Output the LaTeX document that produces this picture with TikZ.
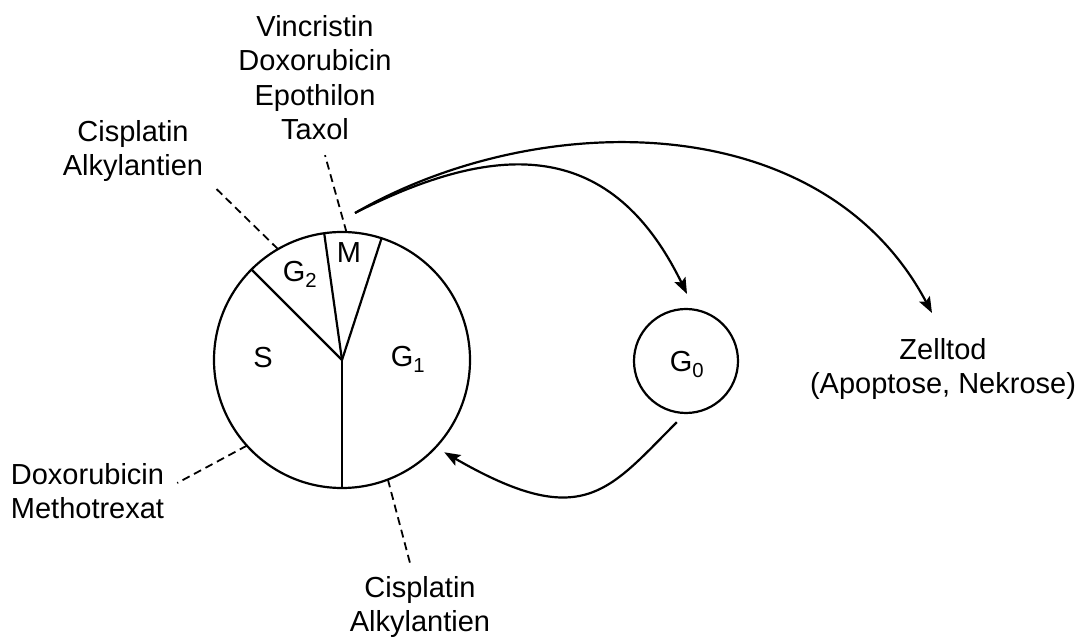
\documentclass[tikz,border=0pt]{standalone}
\usepackage{fontspec}
\setsansfont{Liberation Sans}
\usetikzlibrary{positioning, calc, arrows.meta}

\begin{document}
\begin{tikzpicture}[
		x=1pt, y=1pt,
		font=\sffamily\fontsize{29}{34.5}\selectfont,
		% Style for the phase circles
		phase/.style={circle, draw, line width=2.2pt, inner sep=0pt, outer sep=0pt},
		% Spokes between the phases
		spoke/.style={line width=2.2pt},
		% Dashed leader lines to the drug lists
		leader/.style={line width=1.8pt, dash pattern=on 8pt off 5pt},
		% Curved transition arrows
		flow/.style={line width=2.2pt, -{Stealth[length=16pt, width=12pt, inset=3pt]}},
		% Text
		drugs/.style={align=center, inner sep=0pt, anchor=north},
		phase label/.style={inner sep=0pt, anchor=base}
		]
		\useasboundingbox (0,0) rectangle (1079,640);
		
		% Cell cycle
		\node[phase, minimum size=256] (cell) at (342,280) {};
		\draw[spoke] (cell.center) -- (cell.270);
		\draw[spoke] (cell.center) -- (cell.135);
		\draw[spoke] (cell.center) -- (cell.98.5);
		\draw[spoke] (cell.center) -- (cell.72);
		\node[phase label] (s) at (263,272) {S};
		\node[phase label] (g2) at (300,358) {G\textsubscript{2}};
		\node[phase label] (m) at (349,377) {M};
		\node[phase label] (g1) at (408,273) {G\textsubscript{1}};
		
		% Resting phase
		\node[phase, minimum size=104] (g0) at (686,279) {};
		\node[phase label] (g0txt) at (687,268) {G\textsubscript{0}};
		
		% Drug lists
		\node[drugs] (vinc) at (315,625) {Vincristin\\Doxorubicin\\Epothilon\\Taxol};
		\node[drugs] (cis1) at (133,520) {Cisplatin\\Alkylantien};
		\node[drugs] (doxo) at (87.5,177) {Doxorubicin\\Methotrexat};
		\node[drugs] (cis2) at (420,64) {Cisplatin\\Alkylantien};
		\node[drugs] (zelltod) at (943,302) {Zelltod\\(Apoptose, Nekrose)};
		
		\draw[leader] (cell.120) -- ($(cis1.south east)+(10,-4)$);
		\draw[leader] (cell.88) -- ($(vinc.south)+(10,-15)$);
		\draw[leader] (cell.222) -- ($(doxo.north east)+(13,-20)$);
		\draw[leader] (cell.291) -- ($(cis2.north)+(-10,13)$);
		
		% Transitions
		\coordinate (mtop) at (355,427);
		\coordinate (rest) at ($(g0.north)+(1,15)$);
		\coordinate (death) at ($(zelltod.north)+(-11,25)$);
		\draw[flow] (mtop) .. controls +(27:165) and +(116:170) .. (rest);
		\draw[flow] (mtop) .. controls +(30:210) and +(118:235) .. (death);
		\draw[flow, shorten <=13pt, shorten >=10pt] (g0.south) .. controls +(225:110) and +(-30:170) .. (cell.-43);
	\end{tikzpicture}
\end{document}
